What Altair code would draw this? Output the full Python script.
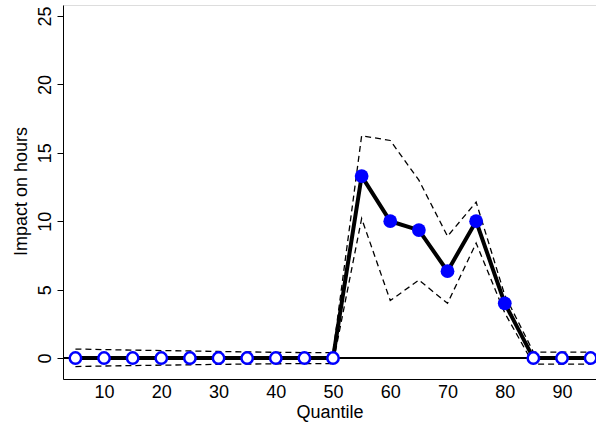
import altair as alt
import pandas as pd

quantile = [5, 10, 15, 20, 25, 30, 35, 40, 45, 50, 55, 60, 65, 70, 75, 80, 85, 90, 95]
estimate = [0, 0, 0, 0, 0, 0, 0, 0, 0, 0, 13.3, 10.0, 9.35, 6.35, 10.0, 4.0, 0, 0, 0]
upper = [0.66, 0.62, 0.58, 0.55, 0.52, 0.48, 0.45, 0.42, 0.40, 0.40,
         16.25, 15.9, 13.0, 8.9, 11.4, 4.6, 0.44, 0.44, 0.44]
lower = [-0.62, -0.58, -0.55, -0.52, -0.49, -0.46, -0.44, -0.42, -0.40, -0.40,
         10.2, 4.2, 5.7, 4.0, 8.4, 3.3, -0.44, -0.44, -0.44]
significant = [False] * 10 + [True] * 6 + [False] * 3

df = pd.DataFrame({"q": quantile, "est": estimate, "hi": upper, "lo": lower, "sig": significant})

FONT = "Liberation Sans"
FS = 18
xscale = alt.Scale(domain=[2.83, 95.94], nice=False, zero=False)
yscale = alt.Scale(domain=[-1.53, 25.8], nice=False, zero=False)

xaxis = alt.Axis(values=[10, 20, 30, 40, 50, 60, 70, 80, 90], title="Quantile",
                 grid=False, tickSize=0, labelPadding=18, labelBaseline="alphabetic",
                 labelFontSize=FS, labelFont=FONT,
                 titleFont=FONT, titleFontSize=FS, titleFontWeight="normal",
                 titleBaseline="alphabetic", titleY=38, labelColor="black", titleColor="black",
                 domainColor="black", labelFlush=False)
yaxis = alt.Axis(values=[0, 5, 10, 15, 20, 25], title="Impact on hours", grid=False,
                 tickSize=6, tickColor="black", labelAngle=270, labelAlign="center",
                 labelBaseline="alphabetic", labelPadding=7, labelFontSize=FS, labelFont=FONT,
                 titleFont=FONT, titleFontSize=FS, titleFontWeight="normal", titleAngle=270,
                 titleBaseline="alphabetic", titleX=-37, titleY=186, titleAlign="center",
                 labelColor="black", titleColor="black", domainColor="black", labelFlush=False)

base = alt.Chart(df)
x = alt.X("q:Q", scale=xscale, axis=xaxis)

zero = base.mark_rule(color="black", strokeWidth=1).encode(
    y=alt.datum(0, scale=yscale), x=alt.value(0), x2=alt.value(533))
hi = base.mark_line(color="black", strokeWidth=1.3, strokeDash=[6, 4]).encode(
    x=x, y=alt.Y("hi:Q", scale=yscale, axis=yaxis))
lo = base.mark_line(color="black", strokeWidth=1.3, strokeDash=[6, 4]).encode(x=x, y=alt.Y("lo:Q", scale=yscale))
line = base.mark_line(color="black", strokeWidth=4).encode(x=x, y=alt.Y("est:Q", scale=yscale))
pts_open = base.transform_filter("!datum.sig").mark_point(
    shape="circle", filled=True, fill="white", stroke="#0000FF", strokeWidth=2.5, size=130, opacity=1
).encode(x=x, y=alt.Y("est:Q", scale=yscale))
pts_fill = base.transform_filter("datum.sig").mark_point(
    shape="circle", filled=True, fill="#0000FF", stroke="#0000FF", strokeWidth=0, size=190, opacity=1
).encode(x=x, y=alt.Y("est:Q", scale=yscale))

chart = alt.layer(hi, lo, zero, line, pts_open, pts_fill).properties(
    width=533, height=374,
    autosize=alt.AutoSizeParams(type="none"),
    padding={"left": 63, "top": 5, "right": 0, "bottom": 47},
).configure_view(stroke=None).configure(background="white")

chart.save("out.html", embed_options={"renderer": "svg", "actions": False})
